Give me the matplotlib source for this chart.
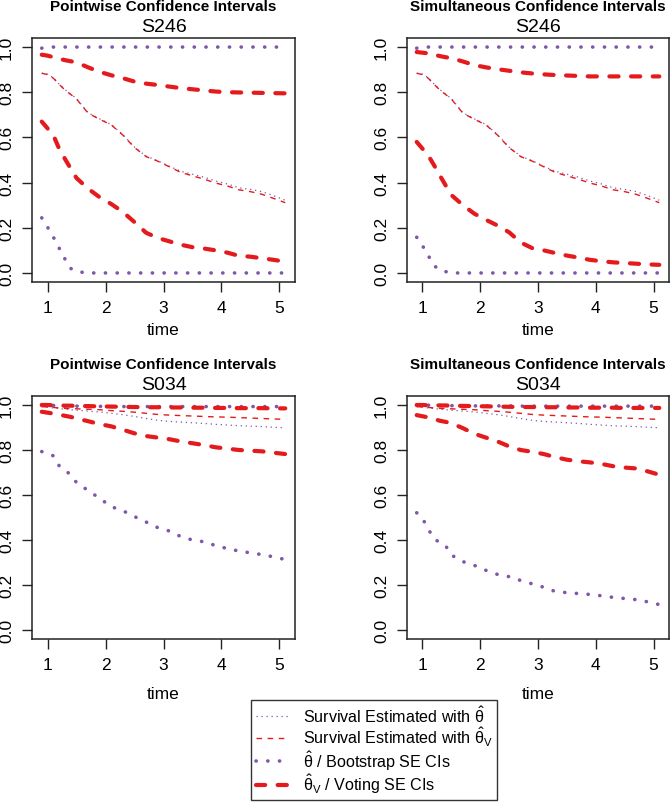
import numpy as np
import matplotlib
matplotlib.use("Agg")
import matplotlib.pyplot as plt
from matplotlib.lines import Line2D

plt.rcParams['font.family'] = ['Liberation Sans', 'DejaVu Sans']
plt.rcParams['mathtext.fontset'] = 'custom'
plt.rcParams['mathtext.rm'] = 'Liberation Sans'
plt.rcParams['mathtext.it'] = 'Liberation Sans'

# time grid
time = [0.9, 1.0, 1.1, 1.2, 1.3, 1.4, 1.5, 1.7, 1.9, 2.1, 2.3, 2.5, 2.7,
        2.9, 3.1, 3.3, 3.5, 3.7, 3.9, 4.1, 4.3, 4.5, 4.7, 4.9, 5.1]

# S246 survival estimates
s246_est = [0.884, 0.880, 0.864, 0.836, 0.812, 0.792, 0.772, 0.709, 0.682, 0.657,
            0.612, 0.557, 0.517, 0.497, 0.472, 0.450, 0.437, 0.424, 0.407, 0.394,
            0.377, 0.370, 0.360, 0.342, 0.322]
s246_est_v = [0.884, 0.878, 0.862, 0.835, 0.810, 0.790, 0.770, 0.707, 0.680, 0.655,
              0.610, 0.555, 0.515, 0.495, 0.470, 0.445, 0.430, 0.415, 0.398, 0.385,
              0.368, 0.360, 0.348, 0.330, 0.311]

# S246 pointwise CIs
s246_pw_boot_up = [0.995, 1.0, 1.0, 1.0, 1.0, 1.0, 1.0, 1.0, 1.0, 1.0, 1.0, 1.0, 1.0,
                   1.0, 1.0, 1.0, 1.0, 1.0, 1.0, 1.0, 1.0, 1.0, 1.0, 1.0, 1.0]
s246_pw_boot_lo = [0.244, 0.203, 0.159, 0.110, 0.062, 0.020, 0.006, 0.0, 0.0, 0.0,
                   0.0, 0.0, 0.0, 0.0, 0.0, 0.0, 0.0, 0.0, 0.0, 0.0, 0.0, 0.0, 0.0,
                   0.0, 0.0]
s246_pw_vote_up = [0.966, 0.962, 0.955, 0.948, 0.942, 0.937, 0.932, 0.910, 0.890,
                   0.875, 0.862, 0.847, 0.838, 0.832, 0.825, 0.818, 0.813, 0.808,
                   0.803, 0.800, 0.799, 0.798, 0.797, 0.796, 0.795]
s246_pw_vote_lo = [0.670, 0.640, 0.610, 0.550, 0.505, 0.462, 0.420, 0.373, 0.335,
                   0.305, 0.270, 0.225, 0.178, 0.155, 0.140, 0.125, 0.114, 0.108,
                   0.100, 0.090, 0.076, 0.072, 0.065, 0.058, 0.050]

# S246 simultaneous CIs
s246_sim_boot_up = s246_pw_boot_up
s246_sim_boot_lo = [0.158, 0.121, 0.077, 0.033, 0.012, 0.006, 0.0, 0.0, 0.0, 0.0,
                    0.0, 0.0, 0.0, 0.0, 0.0, 0.0, 0.0, 0.0, 0.0, 0.0, 0.0, 0.0, 0.0,
                    0.0, 0.0]
s246_sim_vote_up = [0.978, 0.975, 0.972, 0.966, 0.960, 0.955, 0.951, 0.936, 0.920,
                    0.910, 0.902, 0.895, 0.888, 0.883, 0.879, 0.876, 0.874, 0.872,
                    0.870, 0.870, 0.870, 0.870, 0.870, 0.870, 0.870]
s246_sim_vote_lo = [0.580, 0.550, 0.520, 0.477, 0.432, 0.388, 0.345, 0.300, 0.262,
                    0.235, 0.210, 0.180, 0.135, 0.110, 0.100, 0.088, 0.077, 0.068,
                    0.058, 0.052, 0.047, 0.044, 0.041, 0.038, 0.036]

# S034 survival estimates
s034_est = [0.993, 0.990, 0.987, 0.984, 0.981, 0.979, 0.977, 0.973, 0.969, 0.963,
            0.957, 0.949, 0.940, 0.932, 0.927, 0.924, 0.921, 0.918, 0.914, 0.911,
            0.908, 0.906, 0.904, 0.901, 0.899]
s034_est_v = [0.993, 0.991, 0.989, 0.987, 0.985, 0.984, 0.983, 0.981, 0.979, 0.975,
              0.972, 0.968, 0.963, 0.958, 0.955, 0.953, 0.951, 0.949, 0.947, 0.946,
              0.944, 0.942, 0.940, 0.938, 0.936]

# S034 pointwise CIs
s034_pw_boot_up = [1.0, 0.999, 0.998, 0.997, 0.996, 0.995, 0.995, 0.994, 0.994,
                   0.993, 0.993, 0.993, 0.993, 0.993, 0.993, 0.993, 0.993, 0.993,
                   0.993, 0.993, 0.993, 0.993, 0.993, 0.993, 0.993]
s034_pw_boot_lo = [0.793, 0.785, 0.774, 0.730, 0.710, 0.690, 0.655, 0.620, 0.585,
                   0.548, 0.530, 0.504, 0.480, 0.455, 0.440, 0.415, 0.400, 0.392,
                   0.375, 0.362, 0.351, 0.343, 0.335, 0.325, 0.313]
s034_pw_vote_up = [1.0, 1.0, 0.999, 0.998, 0.997, 0.997, 0.996, 0.995, 0.994, 0.993,
                   0.992, 0.991, 0.990, 0.990, 0.989, 0.989, 0.988, 0.988, 0.987,
                   0.987, 0.986, 0.986, 0.986, 0.985, 0.985]
s034_pw_vote_lo = [0.970, 0.966, 0.962, 0.957, 0.952, 0.947, 0.940, 0.928, 0.915,
                   0.905, 0.890, 0.874, 0.862, 0.855, 0.848, 0.838, 0.830, 0.822,
                   0.812, 0.806, 0.800, 0.797, 0.794, 0.788, 0.782]

# S034 simultaneous CIs
s034_sim_boot_up = [1.0, 1.0, 0.999, 0.999, 0.998, 0.998, 0.997, 0.997, 0.996,
                    0.996, 0.996, 0.996, 0.995, 0.995, 0.995, 0.995, 0.995, 0.995,
                    0.995, 0.995, 0.995, 0.995, 0.995, 0.995, 0.995]
s034_sim_boot_lo = [0.521, 0.496, 0.449, 0.404, 0.390, 0.375, 0.333, 0.304, 0.287,
                    0.265, 0.247, 0.237, 0.220, 0.205, 0.190, 0.171, 0.166, 0.162,
                    0.158, 0.152, 0.145, 0.140, 0.135, 0.125, 0.113]
s034_sim_vote_up = [1.0, 1.0, 0.999, 0.999, 0.998, 0.998, 0.997, 0.996, 0.995, 0.994,
                    0.993, 0.992, 0.991, 0.991, 0.990, 0.990, 0.989, 0.989, 0.988,
                    0.988, 0.988, 0.987, 0.987, 0.987, 0.987]
s034_sim_vote_lo = [0.955, 0.950, 0.945, 0.938, 0.930, 0.925, 0.919, 0.897, 0.872,
                    0.855, 0.838, 0.816, 0.800, 0.792, 0.782, 0.768, 0.757, 0.750,
                    0.745, 0.738, 0.728, 0.722, 0.718, 0.705, 0.690]

red = '#E41A1C'
purple = '#7E57A8'

# line styles (R-like)
st_est = dict(color=purple, lw=0.9, linestyle=(0, (1, 3)))
st_est_v = dict(color=red, lw=1.0, linestyle=(0, (4, 4)))
st_boot = dict(color=purple, lw=2.6, linestyle=(0, (0.05, 3.2)),
               dash_capstyle='round')
st_vote = dict(color=red, lw=3.0, linestyle=(0, (2.2, 3.0)),
               dash_capstyle='round')

panels = [
    ("Pointwise Confidence Intervals", "S246", s246_est, s246_est_v,
     s246_pw_boot_up, s246_pw_boot_lo, s246_pw_vote_up, s246_pw_vote_lo),
    ("Simultaneous Confidence Intervals", "S246", s246_est, s246_est_v,
     s246_sim_boot_up, s246_sim_boot_lo, s246_sim_vote_up, s246_sim_vote_lo),
    ("Pointwise Confidence Intervals", "S034", s034_est, s034_est_v,
     s034_pw_boot_up, s034_pw_boot_lo, s034_pw_vote_up, s034_pw_vote_lo),
    ("Simultaneous Confidence Intervals", "S034", s034_est, s034_est_v,
     s034_sim_boot_up, s034_sim_boot_lo, s034_sim_vote_up, s034_sim_vote_lo),
]

W, H = 670, 803
# axes boxes in pixels: left, top, right, bottom
boxes = [(32, 39, 295, 283), (407, 39, 669, 283),
         (32, 397, 295, 640), (407, 397, 669, 640)]
xlabel_pads = [5, 5, 10, 10]

fig = plt.figure(figsize=(W / 100, H / 100), dpi=100)

for i, ((title, sub, est, est_v, b_up, b_lo, v_up, v_lo), (l, t, r, b)) in enumerate(zip(panels, boxes)):
    ax = fig.add_axes([l / W, 1 - b / H, (r - l) / W, (b - t) / H])
    ax.plot(time, est, **st_est)
    ax.plot(time, est_v, **st_est_v)
    ax.plot(time, b_up, **st_boot)
    ax.plot(time, b_lo, **st_boot)
    ax.plot(time, v_up, **st_vote)
    ax.plot(time, v_lo, **st_vote)
    ax.set_xlim(0.732, 5.268)
    ax.set_ylim(-0.04, 1.04)
    ax.set_xticks([1, 2, 3, 4, 5])
    ax.set_yticks([0.0, 0.2, 0.4, 0.6, 0.8, 1.0])
    ax.set_yticklabels(['0.0', '0.2', '0.4', '0.6', '0.8', '1.0'],
                       rotation=90, va='center')
    ax.tick_params(direction='out', length=7, width=1, labelsize=12.5,
                   color='#222222', pad=6)
    for sp in ax.spines.values():
        sp.set_linewidth(1.1)
        sp.set_color('#222222')
    ax.set_xlabel('time', fontsize=12.5, labelpad=xlabel_pads[i])
    ax.annotate(title, xy=(0.5, 1), xycoords='axes fraction',
                xytext=(0, 20), textcoords='offset points',
                ha='center', va='baseline', fontsize=11, fontweight='bold')
    ax.annotate(sub, xy=(0.5, 1), xycoords='axes fraction',
                xytext=(0, 5), textcoords='offset points',
                ha='center', va='baseline', fontsize=14)

handles = [Line2D([], [], **st_est), Line2D([], [], **st_est_v),
           Line2D([], [], **st_boot), Line2D([], [], **st_vote)]
labels = [r'Survival Estimated with $\hat{\theta}$',
          r'Survival Estimated with $\hat{\theta}_V$',
          r'$\hat{\theta}$ / Bootstrap SE CIs',
          r'$\hat{\theta}_V$ / Voting SE CIs']
leg = fig.legend(handles, labels, loc='lower left',
                 bbox_to_anchor=(251 / W, 2 / H), borderaxespad=0,
                 fontsize=11.6, frameon=True, fancybox=False,
                 handlelength=2.0, handletextpad=0.9, labelspacing=0.0,
                 borderpad=0.3)
leg.get_frame().set_edgecolor('black')
leg.get_frame().set_linewidth(1.0)

fig.savefig('out.png', dpi=100)
